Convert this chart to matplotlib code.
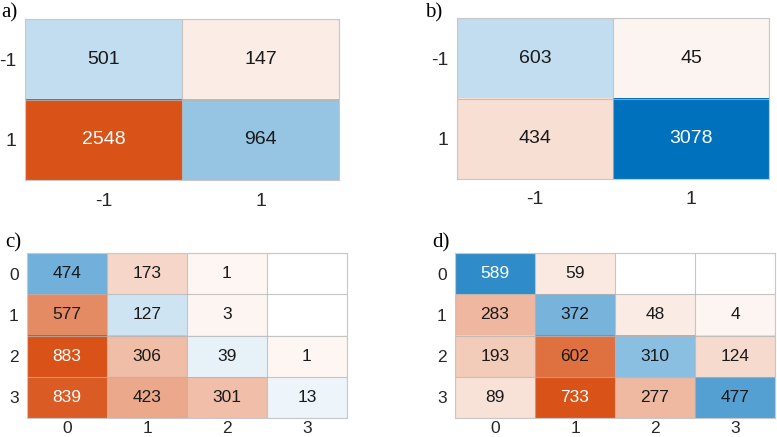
import numpy as np
import matplotlib
matplotlib.use("Agg")
import matplotlib.pyplot as plt

labels_a = ["-1", "1"]
values_a = [[501, 147], [2548, 964]]
labels_b = ["-1", "1"]
values_b = [[603, 45], [434, 3078]]
labels_c = ["0", "1", "2", "3"]
values_c = [[474, 173, 1, 0], [577, 127, 3, 0], [883, 306, 39, 1], [839, 423, 301, 13]]
labels_d = ["0", "1", "2", "3"]
values_d = [[589, 59, 0, 0], [283, 372, 48, 4], [193, 602, 310, 124], [89, 733, 277, 477]]
panel_names = ["a)", "b)", "c)", "d)"]

BLUE = np.array([0, 114, 189]) / 255.0
ORANGE = np.array([217, 83, 25]) / 255.0

fig = plt.figure(figsize=(7.77, 4.37), dpi=100)
W, H = 777, 437
boxes = [(25, 19, 339, 180), (457, 18, 769, 179), (27, 253, 347, 418), (455, 253, 775, 418)]
label_pos = [(1, 13), (425, 13), (5, 243), (432, 243)]
datas = [(labels_a, values_a), (labels_b, values_b), (labels_c, values_c), (labels_d, values_d)]
fsz = [14, 14, 12.5, 12.5]
xpad = [9, 9, 2, 2]

for k, ((labs, vals), (x0, y0, x1, y1)) in enumerate(zip(datas, boxes)):
    v = np.array(vals, dtype=float)
    n = v.shape[0]
    vmax = v.max()
    rgb = np.ones((n, n, 3))
    ax = fig.add_axes([x0 / W, 1 - y1 / H, (x1 - x0) / W, (y1 - y0) / H])
    for i in range(n):
        for j in range(n):
            if v[i, j] == 0:
                continue
            a = 0.05 + 0.95 * v[i, j] / vmax
            base = BLUE if i == j else ORANGE
            rgb[i, j] = 1 - (1 - base) * a
    ax.imshow(rgb, aspect="auto", interpolation="nearest")
    for i in range(n):
        for j in range(n):
            if v[i, j] == 0:
                continue
            c = rgb[i, j] * 255
            lum = 0.299 * c[0] + 0.587 * c[1] + 0.114 * c[2]
            tc = "white" if lum < 130 else "#1a1a1a"
            ax.text(j, i, f"{int(v[i, j])}", ha="center", va="center", fontsize=fsz[k],
                    color=tc, family="Liberation Sans")
    ax.set_xticks(range(n))
    ax.set_yticks(range(n))
    ax.set_xticklabels(labs, fontsize=fsz[k], family="Liberation Sans", color="#262626")
    ax.set_yticklabels(labs, fontsize=fsz[k], family="Liberation Sans", color="#262626")
    ax.tick_params(axis="x", length=0, pad=xpad[k])
    ax.tick_params(axis="y", length=0, pad=6)
    ax.set_xticks(np.arange(-0.5, n, 1), minor=True)
    ax.set_yticks(np.arange(-0.5, n, 1), minor=True)
    ax.grid(which="minor", color="#b4b4b4", linewidth=0.8, alpha=0.75)
    ax.tick_params(which="minor", length=0)
    for s in ax.spines.values():
        s.set_color("#c8c8c8")
        s.set_linewidth(0.8)
    lx, ly = label_pos[k]
    fig.text(lx / W, 1 - ly / H, panel_names[k], fontsize=15, family="Liberation Serif",
             ha="left", va="center")

fig.savefig("out.png", dpi=100)
